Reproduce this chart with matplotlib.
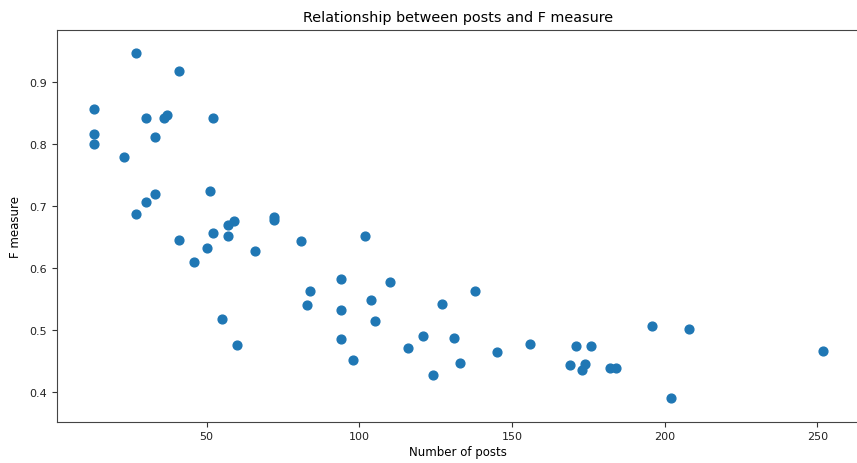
import matplotlib
matplotlib.use("Agg")
import matplotlib.pyplot as plt

posts = [27, 41, 13, 30, 36, 37, 52, 13, 33, 13, 23, 51, 33, 30, 27,
         72, 72, 59, 57, 52, 41, 57, 50, 66, 81, 46, 84, 83, 55, 60,
         102, 94, 110, 104, 94, 138, 127, 105, 94, 121, 131, 98, 116, 133, 124,
         145, 156, 196, 208, 171, 176, 169, 174, 173, 182, 184, 252, 202]
f_measure = [0.948, 0.919, 0.857, 0.843, 0.843, 0.847, 0.843, 0.817, 0.812, 0.800,
             0.779, 0.724, 0.719, 0.707, 0.687, 0.682, 0.677, 0.676, 0.669, 0.657,
             0.646, 0.651, 0.633, 0.627, 0.644, 0.610, 0.563, 0.540, 0.517, 0.475,
             0.652, 0.583, 0.578, 0.549, 0.532, 0.563, 0.542, 0.514, 0.485, 0.490,
             0.487, 0.452, 0.470, 0.446, 0.427, 0.464, 0.478, 0.507, 0.502, 0.474,
             0.474, 0.443, 0.445, 0.435, 0.439, 0.439, 0.466, 0.390]

W, H = 857, 464
fig = plt.figure(figsize=(W / 100, H / 100), dpi=100)
ax = fig.add_axes([56.7 / W, (H - 422.5) / H, 803.3 / W, 391.8 / H])
ax.scatter(posts, f_measure, color="#1f77b4", s=40)
ax.set_xlim(0.9, 264)
ax.set_ylim(0.352, 0.985)
ax.set_xticks([50, 100, 150, 200, 250])
ax.set_yticks([0.4, 0.5, 0.6, 0.7, 0.8, 0.9])
ax.tick_params(labelsize=8, colors="#333333", labelcolor="#222222")
for sp in ax.spines.values():
    sp.set_color("#444444")
ax.set_title("Relationship between posts and F measure", fontsize=10.4, pad=6)
ax.set_xlabel("Number of posts", fontsize=8.5, labelpad=3)
ax.set_ylabel("F measure", fontsize=8.5, labelpad=5)
fig.savefig("out.png", dpi=100)
